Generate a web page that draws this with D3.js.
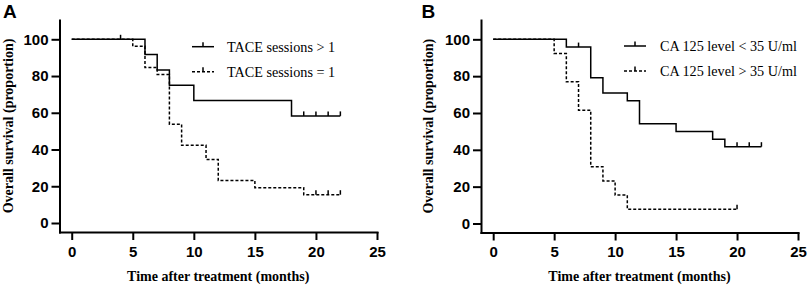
<!DOCTYPE html>
<html>
<head>
<meta charset="utf-8">
<script src="https://cdn.jsdelivr.net/npm/d3@7"></script>
<style>
  body { margin: 0; background: #fff; }
  svg { display: block; }
  .tick text { font-family: "Liberation Sans", Arial, sans-serif; font-weight: bold; font-size: 15px; fill: #000; }
  .axis path, .axis line { stroke: #000; stroke-width: 2px; }
  .title { font-family: "Liberation Serif", "Times New Roman", serif; font-weight: bold; font-size: 14px; fill: #000; }
  .legend { font-family: "Liberation Serif", "Times New Roman", serif; font-size: 14.2px; fill: #000; }
  .letter { font-family: "Liberation Sans", Arial, sans-serif; font-weight: bold; font-size: 19px; fill: #000; }
</style>
</head>
<body>
<svg id="drawing_region"></svg>
<script>
// axis ticks
const xTicks = [0, 5, 10, 15, 20, 25];
const yTicks = [0, 20, 40, 60, 80, 100];

// panel A : TACE sessions
const aLabels = ['TACE sessions > 1', 'TACE sessions = 1'];
const aTimes1 = [0, 6, 7, 8, 10, 18, 22];
const aSurv1  = [100, 91.7, 83.3, 75.0, 66.7, 58.3, 58.3];
const aCens1  = [4, 19, 20, 21, 22];
const aTimes2 = [0, 5, 6, 7, 8, 9, 11, 12, 15, 19, 22];
const aSurv2  = [100, 96.2, 84.6, 80.8, 53.8, 42.3, 34.6, 23.1, 19.2, 15.4, 15.4];
const aCens2  = [20, 21, 22];

// panel B : CA 125 level
const bLabels = ['CA 125 level < 35 U/ml', 'CA 125 level > 35 U/ml'];
const bTimes1 = [0, 6, 8, 9, 11, 12, 15, 18, 19, 22];
const bSurv1  = [100, 95.8, 79.2, 70.8, 66.7, 54.2, 50.0, 45.8, 41.7, 41.7];
const bCens1  = [7, 20, 21, 22];
const bTimes2 = [0, 5, 6, 7, 8, 9, 10, 11, 20];
const bSurv2  = [100, 92.3, 76.9, 61.5, 30.8, 23.1, 15.4, 7.7, 7.7];
const bCens2  = [20];

const svg = d3.select('#drawing_region')
    .attr('width', 809)
    .attr('height', 286);

class KMChart {

    constructor(config, series) {
        this.config = config;
        this.series = series;
        this.init();
        this.render();
    }

    init() {
        let self = this;
        const c = self.config;

        self.chart = svg.append('g');

        self.xscale = d3.scaleLinear()
            .domain([-1, 25])
            .range([c.left, c.right]);

        self.yscale = d3.scaleLinear()
            .domain([-4.9, 110.5])
            .range([c.bottom, c.top]);

        self.xaxis = d3.axisBottom(self.xscale)
            .tickValues(xTicks)
            .tickSize(8)
            .tickPadding(6)
            .tickSizeOuter(0);

        self.yaxis = d3.axisLeft(self.yscale)
            .tickValues(yTicks)
            .tickSize(8)
            .tickPadding(3)
            .tickSizeOuter(0);
    }

    survAt(s, t) {
        let v = s.surv[0];
        s.times.forEach((d, i) => { if (d <= t) v = s.surv[i]; });
        return v;
    }

    render() {
        let self = this;
        const c = self.config;
        const x = self.xscale, y = self.yscale;

        const line = d3.line()
            .x(d => x(d[0]))
            .y(d => y(d[1]))
            .curve(d3.curveStepAfter);

        self.series.forEach((s, k) => {
            const pts = s.times.map((t, i) => [t, s.surv[i]]);
            self.chart.append('path')
                .attr('d', line(pts))
                .attr('fill', 'none')
                .attr('stroke', '#000')
                .attr('stroke-width', 1.5)
                .attr('stroke-dasharray', s.dash);

            self.chart.selectAll(null).data(s.cens).enter()
                .append('line')
                .attr('x1', d => x(d)).attr('x2', d => x(d))
                .attr('y1', d => y(self.survAt(s, d)))
                .attr('y2', d => y(self.survAt(s, d)) - 4.5)
                .attr('stroke', '#000')
                .attr('stroke-width', 1.5);

            // legend
            const ly = c.legendY + k * 25;
            const lx = c.legendX;
            self.chart.append('line')
                .attr('x1', lx).attr('x2', lx + 22)
                .attr('y1', ly).attr('y2', ly)
                .attr('stroke', '#000')
                .attr('stroke-width', 1.5)
                .attr('stroke-dasharray', s.dash);
            self.chart.append('line')
                .attr('x1', lx + 11).attr('x2', lx + 11)
                .attr('y1', ly).attr('y2', ly - 4.5)
                .attr('stroke', '#000')
                .attr('stroke-width', 1.5);
            self.chart.append('text')
                .attr('class', 'legend')
                .attr('x', lx + c.textGap)
                .attr('y', ly + 5)
                .text(s.label);
        });

        self.chart.append('g')
            .attr('class', 'axis')
            .attr('transform', `translate(0, ${c.bottom})`)
            .call(self.xaxis);

        self.chart.append('g')
            .attr('class', 'axis')
            .attr('transform', `translate(${c.left}, 0)`)
            .call(self.yaxis);

        self.chart.selectAll('.axis path').attr('stroke-linecap', 'square');

        self.chart.append('text')
            .attr('class', 'title')
            .attr('text-anchor', 'middle')
            .attr('x', (c.left + c.right) / 2)
            .attr('y', 281)
            .text('Time after treatment (months)');

        self.chart.append('text')
            .attr('class', 'title')
            .attr('text-anchor', 'middle')
            .attr('transform', `translate(${c.ytitleX}, ${(c.top + c.bottom) / 2}) rotate(-90)`)
            .text('Overall survival (proportion)');

        self.chart.append('text')
            .attr('class', 'letter')
            .attr('x', c.letterX)
            .attr('y', 18)
            .text(c.letter);
    }
}

new KMChart(
    {left: 59.5, right: 377, top: 20, bottom: 232, legendX: 192, legendY: 46.7, textGap: 35,
     ytitleX: 13, letterX: 3, letter: 'A'},
    [
        {label: aLabels[0], times: aTimes1, surv: aSurv1, cens: aCens1, dash: null},
        {label: aLabels[1], times: aTimes2, surv: aSurv2, cens: aCens2, dash: '3,2'}
    ]);

new KMChart(
    {left: 481, right: 798, top: 20, bottom: 232.5, legendX: 624, legendY: 46, textGap: 36,
     ytitleX: 433, letterX: 421.5, letter: 'B'},
    [
        {label: bLabels[0], times: bTimes1, surv: bSurv1, cens: bCens1, dash: null},
        {label: bLabels[1], times: bTimes2, surv: bSurv2, cens: bCens2, dash: '3,2'}
    ]);
</script>
</body>
</html>
